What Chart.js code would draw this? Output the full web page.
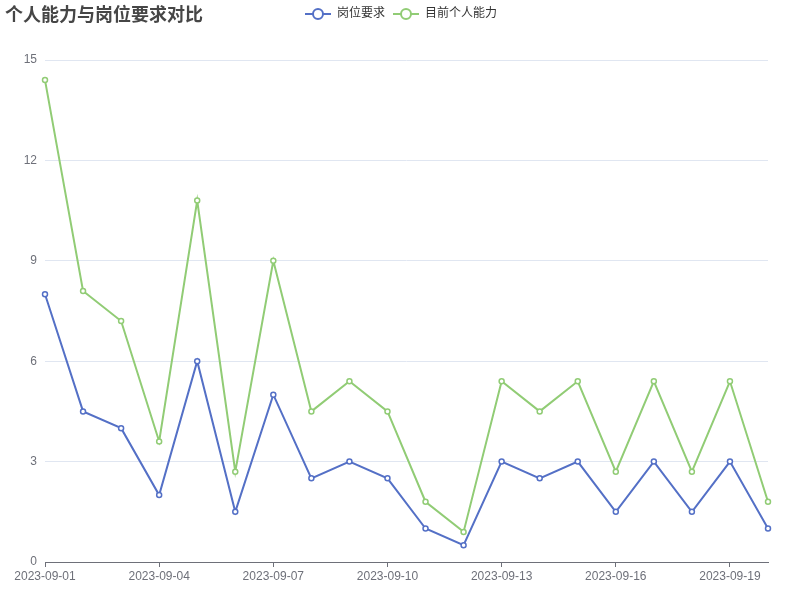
<!DOCTYPE html>
<html><head><meta charset="utf-8">
<script src="https://cdn.jsdelivr.net/npm/chart.js@4/dist/chart.umd.min.js"></script>
<style>html,body{margin:0;padding:0;background:#fff}#wrap{width:800px;height:600px;position:relative}</style>
</head><body><div id="wrap"><canvas id="c" width="800" height="600"></canvas></div>
<script>
const chartTitle = '个人能力与岗位要求对比';
const categories = ['2023-09-01','2023-09-02','2023-09-03','2023-09-04','2023-09-05','2023-09-06','2023-09-07','2023-09-08','2023-09-09','2023-09-10','2023-09-11','2023-09-12','2023-09-13','2023-09-14','2023-09-15','2023-09-16','2023-09-17','2023-09-18','2023-09-19','2023-09-20'];
const seriesNames = ['岗位要求','目前个人能力'];
const jobRequirement = [8,4.5,4,2,6,1.5,5,2.5,3,2.5,1,0.5,3,2.5,3,1.5,3,1.5,3,1];
const currentAbility = [14.4,8.1,7.2,3.6,10.8,2.7,9,4.5,5.4,4.5,1.8,0.9,5.4,4.5,5.4,2.7,5.4,2.7,5.4,1.8];
const yTicks = [0,3,6,9,12,15];

const FONT = "'Liberation Sans','Noto Sans CJK SC',sans-serif";
function legendIcon(color){
  const c=document.createElement('canvas');c.width=26;c.height=14;
  const x=c.getContext('2d');
  x.strokeStyle=color;x.lineWidth=2;
  x.beginPath();x.moveTo(0,7);x.lineTo(26,7);x.stroke();
  x.beginPath();x.arc(13,7,5,0,Math.PI*2);x.fillStyle='#fff';x.fill();x.stroke();
  return c;
}
const colors=['#5470c6','#91cc75'];
const titlePlugin={id:'tp',
  afterLayout(ch){ if(ch.legend){ ch.legend.left+=17; ch.legend.right+=17; } },
  afterDraw(ch){const ctx=ch.ctx;ctx.save();ctx.font="bold 18px 'Noto Sans CJK SC',sans-serif";ctx.fillStyle='#464646';ctx.textBaseline='middle';ctx.textAlign='left';ctx.fillText(chartTitle,5,14);ctx.restore();}};
new Chart(document.getElementById('c'),{
  type:'line',
  data:{labels:categories,datasets:[jobRequirement,currentAbility].map((d,i)=>({
    label:seriesNames[i],data:d,borderColor:colors[i],backgroundColor:'#fff',
    borderWidth:2,pointRadius:2.5,pointBorderWidth:1.5,pointBackgroundColor:'#fff',pointBorderColor:colors[i],
    pointStyle:'circle',tension:0,fill:false
  }))},
  options:{
    responsive:false,animation:false,
    layout:{padding:{top:0,right:32,left:0,bottom:0}},
    plugins:{
      legend:{position:'top',align:'center',labels:{
        font:{size:12,family:FONT},color:'#333',usePointStyle:true,pointStyleWidth:26,padding:8,boxWidth:26,boxHeight:14,
        generateLabels(ch){return ch.data.datasets.map((ds,i)=>({text:ds.label,pointStyle:legendIcon(colors[i]),fontColor:'#333',datasetIndex:i,hidden:false,lineWidth:0,strokeStyle:colors[i],fillStyle:'#fff'}));}
      }},
      subtitle:{display:true,text:'',weight:500,position:'top',font:{size:10,lineHeight:1},padding:{top:0,bottom:20}},
      tooltip:{enabled:false}
    },
    scales:{
      x:{offset:false,grid:{display:true,drawOnChartArea:false,drawTicks:true,tickLength:5,color:'#6e7079'},
        border:{display:true,color:'#6e7079',width:1},
        ticks:{autoSkip:false,maxRotation:0,color:'#6e7079',font:{size:12,family:FONT},padding:2,
          callback(v,i){return i%3===0?categories[i]:null;}},
        afterFit(s){s.height=38;}},
      y:{min:0,max:15,afterBuildTicks(s){s.ticks=yTicks.map(v=>({value:v}));},
        grid:{color:'#e0e6f1',drawTicks:false},border:{display:false},
        ticks:{color:'#6e7079',font:{size:12,family:FONT},padding:8},
        afterFit(s){s.width=45;}}
    }
  },
  plugins:[titlePlugin]
});
</script></body></html>
